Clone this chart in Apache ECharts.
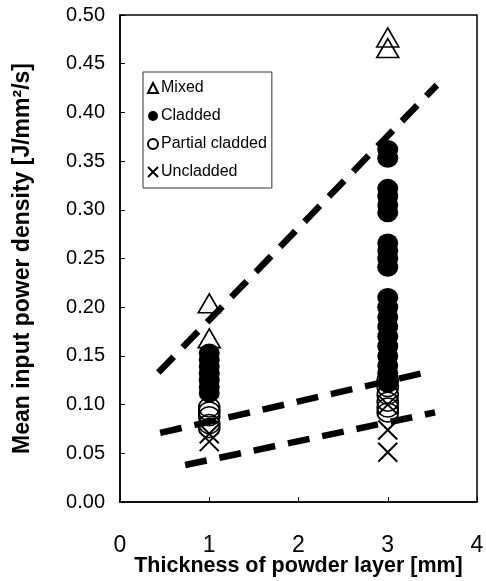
<!DOCTYPE html>
<html>
<head>
<meta charset="utf-8">
<script src="https://cdn.jsdelivr.net/npm/echarts@6/dist/echarts.min.js"></script>
<style>
html,body{margin:0;padding:0;background:#fff;}
#c{width:486px;height:581px;}
</style>
</head>
<body>
<div id="c"></div>
<script>
// ---- data ----
const xTicks = [0, 1, 2, 3, 4];
const thicknessA = 1;
const thicknessB = 3;
const mixedAt1 = [0.204, 0.168];
const mixedAt3 = [0.477, 0.466];
const claddedAt1 = [0.153, 0.146, 0.139, 0.132, 0.125, 0.118, 0.112];
const claddedAt3 = [0.362, 0.353, 0.322, 0.314, 0.305, 0.297, 0.266, 0.258, 0.250, 0.241,
  0.210, 0.200, 0.190, 0.180, 0.170, 0.160, 0.150, 0.140, 0.132, 0.122];
const partialAt1 = [0.097, 0.093, 0.088, 0.080, 0.076];
const partialAt3 = [0.125, 0.118, 0.110, 0.103, 0.097, 0.092];
const uncladAt1 = [0.070, 0.062];
const uncladAt3 = [0.100, 0.074, 0.051];
// trend lines: [x, y] end points
const trendMixed = [[0.43, 0.133], [3.55, 0.428]];
const trendPartial = [[0.45, 0.071], [3.38, 0.132]];
const trendUnclad = [[0.73, 0.038], [3.53, 0.092]];

function pts(x, arr){ return arr.map(v => [x, v]); }

const FONT = '"Liberation Sans", Arial, sans-serif';
const chart = echarts.init(document.getElementById('c'), null, {renderer:'canvas'});

const dashLine = (name, d) => ({
  name: name, type: 'line', data: d, showSymbol: false, symbol: 'none', z: 6,
  lineStyle: {color: '#000', width: 6.5, type: [22, 13], cap: 'butt'},
  silent: true, animation: false
});

const option = {
  animation: false,
  backgroundColor: '#fff',
  grid: {left: 120, top: 15, right: 9, bottom: 79, show: true, borderColor: '#000', borderWidth: 1.5,
         containLabel: false, outerBoundsMode: 'none'},
  legend: {
    orient: 'vertical', left: 143, top: 72,
    data: ['Mixed', 'Cladded', 'Partial cladded', 'Uncladded'],
    itemWidth: 10, itemHeight: 10, itemGap: 12,
    padding: [8, 5, 8, 4],
    borderColor: '#333', borderWidth: 1, backgroundColor: '#fff',
    textStyle: {fontFamily: FONT, fontSize: 16, color: '#000', lineHeight: 16, padding: [0,0,0,-2]}
  },
  xAxis: {
    type: 'value', min: 0, max: 4, interval: 1,
    name: 'Thickness of powder layer [mm]', nameLocation: 'middle', nameGap: 53,
    nameMoveOverlap: false,
    nameTextStyle: {fontFamily: FONT, fontSize: 21.5, fontWeight: 'bold', color: '#000'},
    axisLine: {show: true, lineStyle: {color: '#000', width: 1.5}},
    axisTick: {show: true, inside: true, length: 5, lineStyle: {color: '#000'}},
    axisLabel: {fontFamily: FONT, fontSize: 23, color: '#000', margin: 32},
    splitLine: {show: false}
  },
  yAxis: {
    type: 'value', min: 0, max: 0.5, interval: 0.05,
    name: 'Mean input power density [J/mm²/s]', nameLocation: 'middle', nameGap: 86,
    nameMoveOverlap: false,
    nameTextStyle: {fontFamily: FONT, fontSize: 23, fontWeight: 'bold', color: '#000'},
    axisLine: {show: true, lineStyle: {color: '#000', width: 1.5}},
    axisTick: {show: true, inside: true, length: 5, lineStyle: {color: '#000'}},
    axisLabel: {fontFamily: FONT, fontSize: 20, color: '#000', margin: 15, formatter: v => v.toFixed(2)},
    splitLine: {show: false}
  },
  series: [
    {
      name: 'Mixed', type: 'scatter', symbol: 'triangle', symbolSize: [22, 19], z: 2,
      data: pts(thicknessA, mixedAt1).concat(pts(thicknessB, mixedAt3)),
      itemStyle: {color: 'transparent', borderColor: '#000', borderWidth: 1.6, opacity: 1}
    },
    {
      name: 'Cladded', type: 'scatter', symbol: 'circle', symbolSize: [21, 19], z: 3,
      data: pts(thicknessA, claddedAt1).concat(pts(thicknessB, claddedAt3)),
      itemStyle: {color: '#000', borderColor: '#000', borderWidth: 0, opacity: 1}
    },
    {
      name: 'Partial cladded', type: 'scatter', symbol: 'circle', symbolSize: [21, 19], z: 4,
      data: pts(thicknessA, partialAt1).concat(pts(thicknessB, partialAt3)),
      itemStyle: {color: 'transparent', borderColor: '#000', borderWidth: 1.6, opacity: 1}
    },
    {
      name: 'Uncladded', type: 'scatter', symbol: 'path://M0,0L10,10M10,0L0,10', symbolSize: [19, 19], z: 4,
      data: pts(thicknessA, uncladAt1).concat(pts(thicknessB, uncladAt3)),
      itemStyle: {color: 'transparent', borderColor: '#000', borderWidth: 2, opacity: 1}
    },
    dashLine('trendMixed', trendMixed),
    dashLine('trendPartial', trendPartial),
    dashLine('trendUnclad', trendUnclad)
  ]
};
chart.setOption(option);
</script>
</body>
</html>
